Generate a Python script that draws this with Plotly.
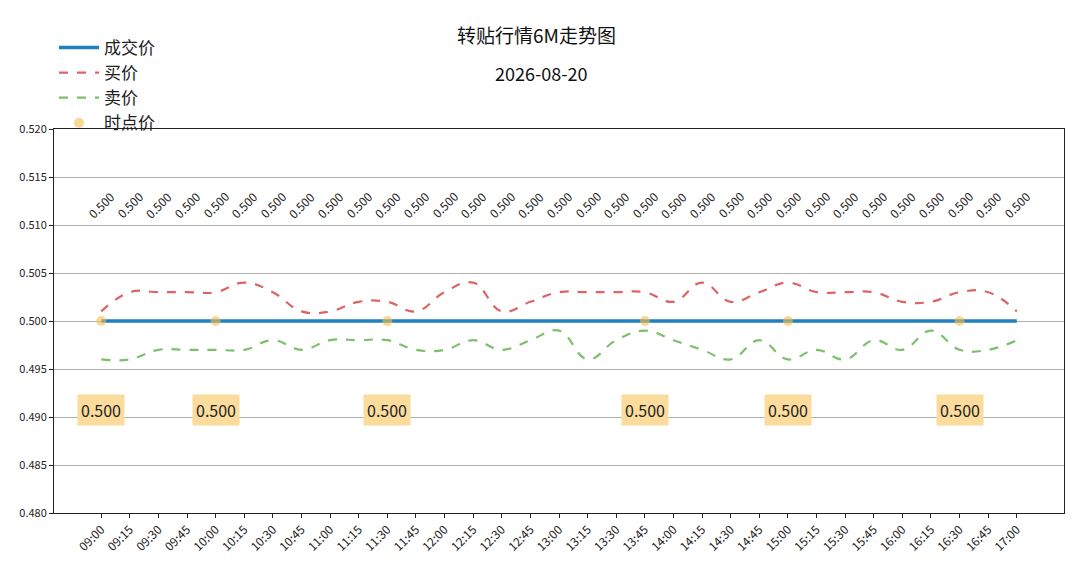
import plotly.graph_objects as go

times = ["09:00", "09:15", "09:30", "09:45", "10:00", "10:15", "10:30", "10:45",
         "11:00", "11:15", "11:30", "11:45", "12:00", "12:15", "12:30", "12:45",
         "13:00", "13:15", "13:30", "13:45", "14:00", "14:15", "14:30", "14:45",
         "15:00", "15:15", "15:30", "15:45", "16:00", "16:15", "16:30", "16:45", "17:00"]

deal_price = [0.500] * 33

bid_price = [0.501, 0.503, 0.503, 0.503, 0.503, 0.504, 0.503, 0.501, 0.501, 0.502, 0.502,
             0.501, 0.503, 0.504, 0.501, 0.502, 0.503, 0.503, 0.503, 0.503, 0.502, 0.504,
             0.502, 0.503, 0.504, 0.503, 0.503, 0.503, 0.502, 0.502, 0.503, 0.503, 0.501]

ask_price = [0.496, 0.496, 0.497, 0.497, 0.497, 0.497, 0.498, 0.497, 0.498, 0.498, 0.498,
             0.497, 0.497, 0.498, 0.497, 0.498, 0.499, 0.496, 0.498, 0.499, 0.498, 0.497,
             0.496, 0.498, 0.496, 0.497, 0.496, 0.498, 0.497, 0.499, 0.497, 0.497, 0.498]

spot_times = ["09:00", "10:00", "11:30", "13:45", "15:00", "16:30"]
spot_price = [0.500, 0.500, 0.500, 0.500, 0.500, 0.500]

title_text = "转贴行情6M走势图"
date_text = "2026-08-20"

font_cn = "Noto Sans CJK SC"

fig = go.Figure()
fig.add_trace(go.Scatter(x=times, y=deal_price, name="成交价", mode="lines",
                         line=dict(color="#1f7fbf", width=3.5)))
fig.add_trace(go.Scatter(x=times, y=bid_price, name="买价", mode="lines",
                         line=dict(color="rgba(214,60,64,0.8)", width=2.2, dash="dash",
                                   shape="spline", smoothing=1.2)))
fig.add_trace(go.Scatter(x=times, y=ask_price, name="卖价", mode="lines",
                         line=dict(color="rgba(80,170,60,0.75)", width=2.2, dash="dash",
                                   shape="spline", smoothing=1.2)))
fig.add_trace(go.Scatter(x=spot_times, y=spot_price, name="时点价", mode="markers",
                         marker=dict(color="rgba(245,190,80,0.6)", size=10)))

# rotated value labels along the top
for t, v in zip(times, deal_price):
    fig.add_annotation(x=t, y=0.5121, xref="x", yref="y", text=f"{v:.3f}",
                       showarrow=False, textangle=-45,
                       font=dict(family=font_cn, size=12, color="#222"))

# boxed spot price labels
for t, v in zip(spot_times, spot_price):
    fig.add_annotation(x=t, y=0.4907, xref="x", yref="y", text=f"{v:.3f}",
                       showarrow=False, bgcolor="#fbdc9c", borderpad=3,
                       font=dict(family=font_cn, size=16, color="#222"))

# title and date
fig.add_annotation(x=0.478, y=1.2448, xref="paper", yref="paper", text=title_text,
                   showarrow=False, xanchor="center", yanchor="middle",
                   font=dict(family=font_cn, size=19, color="#111"))
fig.add_annotation(x=0.482, y=1.1458, xref="paper", yref="paper", text=date_text,
                   showarrow=False, xanchor="center", yanchor="middle",
                   font=dict(family=font_cn, size=18, color="#111"))

fig.update_layout(
    width=1064, height=554,
    margin=dict(l=46, r=8, t=121, b=49),
    paper_bgcolor="white", plot_bgcolor="white",
    font=dict(family=font_cn, size=12, color="#222"),
    legend=dict(x=0.0, y=1.258, xanchor="left", yanchor="top", bgcolor="rgba(0,0,0,0)",
                font=dict(family=font_cn, size=17, color="#222"),
                tracegroupgap=0, itemwidth=40),
    xaxis=dict(range=[-1.65, 33.65], showgrid=False, showline=True, mirror=True,
               linecolor="#222", linewidth=1, ticks="outside", ticklen=4,
               tickcolor="#222", tickangle=-45, tickfont=dict(size=12)),
    yaxis=dict(range=[0.48, 0.52], dtick=0.005, tickformat=".3f", showgrid=True,
               gridcolor="#b0b0b0", gridwidth=1, showline=True, mirror=True,
               linecolor="#222", linewidth=1, ticks="outside", ticklen=4,
               tickcolor="#222", tickfont=dict(size=11), zeroline=False),
)

fig.write_html("out.html")
